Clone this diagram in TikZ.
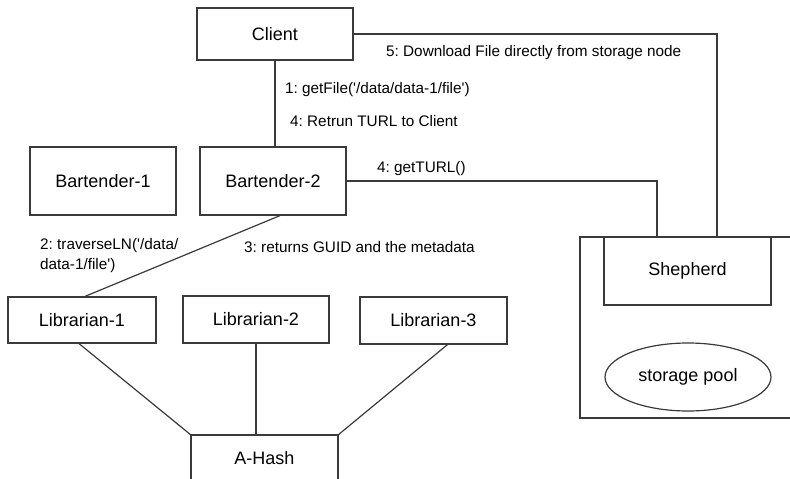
\documentclass[tikz,border=0pt]{standalone}
\usepackage{fontspec}
\setmainfont{Liberation Sans}
\usetikzlibrary{calc,shapes.geometric}
\definecolor{ln}{HTML}{3A3A3A}
\newcommand{\sq}{\textquotesingle}
\begin{document}
\frenchspacing
\begin{tikzpicture}[x=1pt,y=-1pt,
  box/.style={draw=ln,line width=1.2pt,rectangle,inner sep=0pt,font=\fontsize{18}{21}\selectfont},
  lbl/.style={inner sep=0pt,anchor=west,font=\fontsize{15.3}{20}\selectfont},
  conn/.style={draw=ln,line width=1.2pt}]
\useasboundingbox (0,0) rectangle (790,479);
\fill[white] (0,0) rectangle (790,479);
% nodes
\node[box,minimum width=156pt,minimum height=52pt] (client) at (275,34) {Client};
\node[box,minimum width=146pt,minimum height=68pt] (b1) at (103,181) {Bartender-1};
\node[box,minimum width=146pt,minimum height=68pt] (b2) at (273,181) {Bartender-2};
\node[box,minimum width=167pt,minimum height=68pt] (shep) at (687.5,271) {Shepherd};
\node[box,ellipse,minimum width=166pt,minimum height=68pt] (pool) at (688,377) {storage pool};
\node[box,minimum width=148pt,minimum height=46pt] (lib1) at (82,320) {Librarian-1};
\node[box,minimum width=146pt,minimum height=47pt] (lib2) at (256,319.5) {Librarian-2};
\node[box,minimum width=147pt,minimum height=47pt] (lib3) at (433.5,320.5) {Librarian-3};
\node[box,draw=none] (ahash) at (264.5,458) {A-Hash};
% A-Hash open box
\coordinate (ahbl) at (191,479);
\coordinate (ahtl) at (191,435);
\coordinate (ahtm) at (256,435);
\coordinate (ahtr) at (338,435);
\coordinate (ahbr) at (338,479);
\draw[conn] (ahbl) -- (ahtl) -- (ahtr) -- (ahbr);
% storage node outer box
\coordinate (ot) at (790,237);
\coordinate (otl) at (580,237);
\coordinate (obl) at (580,418);
\coordinate (ob) at (790,418);
\draw[conn] (ot) -- (otl) -- (obl) -- (ob);
% connectors
\coordinate (s1) at (717,237);
\coordinate (s2) at (657,237);
\draw[conn] (client.east) -| (s1);
\draw[conn] (b2.east) -| (s2);
\draw[conn] (client.south) -- (client.south |- b2.north);
\draw[conn] ($(b2.south)+(7,0)$) -- ($(lib1.north)+(3,0)$);
\draw[conn] ($(lib1.south)+(-3,0)$) -- (ahtl);
\draw[conn] (lib2.south) -- (ahtm);
\draw[conn] ($(lib3.south)+(14,0)$) -- (ahtr);
% labels
\node[lbl] (l5) at (386,53) {5: Download File directly from storage node};
\node[lbl] (l1) at (285,90) {1: getFile(\sq/data/data-1/file\sq)};
\node[lbl] (l4a) at (290,121) {4: Retrun TURL to Client};
\node[lbl] (l4b) at (377,169) {4: getTURL()};
\node[lbl,align=left] (l2) at (40,256) {2: traverseLN(\sq/data/\\data-1/file\sq)};
\node[lbl] (l3) at (244,247) {3: returns GUID and the metadata};
\end{tikzpicture}
\end{document}
